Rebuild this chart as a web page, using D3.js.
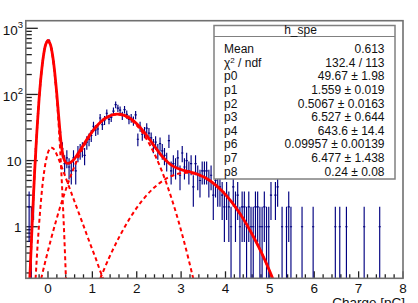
<!DOCTYPE html>
<html lang="en">
<head>
<meta charset="UTF-8">
<script src="https://d3js.org/d3.v7.min.js"></script>
<title>h_spe</title>
<style>
    body { margin: 0; background: white; }
    svg { display: block; font-family: "Liberation Sans", Arial, sans-serif; }
</style>
</head>
<body>
<div id="chart"></div>
<script>
    // histogram h_spe: 170 bins of 0.05 pC starting at -0.5
    const binLow = -0.5;
    const binWidth = 0.05;
    const counts = [
        0, 2, 1, 3, 15, 52, 140, 296, 490, 628,
        655, 498, 310, 152, 63, 27, 15, 9, 11, 8,
        7, 11, 7, 13, 14, 15, 12, 19, 21, 24,
        33, 29, 30, 44, 35, 41, 52, 42, 45, 56,
        70, 62, 58, 48, 59, 50, 42, 44, 40, 49,
        21, 33, 25, 27, 31, 26, 22, 17, 19, 14,
        18, 14, 12, 10, 20, 7, 9, 8, 11, 6,
        13, 8, 10, 7, 9, 4, 9, 6, 5, 7,
        7, 7, 5, 6, 3, 5, 4, 4, 3, 2,
        3, 2, 1, 4, 2, 3, 1, 2, 2, 1,
        2, 1, 1, 2, 2, 1, 1, 2, 1, 1,
        3, 0, 3, 4, 0, 1, 0, 1, 2, 1,
        0, 0, 0, 0, 1, 0, 0, 0, 0, 1,
        0, 0, 0, 0, 0, 0, 0, 0, 0, 1,
        0, 1, 0, 0, 1, 0, 0, 0, 0, 0,
        0, 0, 1, 0, 0, 0, 0, 0, 0, 1,
        0, 0, 0, 0, 0, 0, 0, 0, 0, 0
    ];

    // fit curves, [charge, entries]
    const fitTotal = [
        [-0.45, 0.045], [-0.4, 0.23], [-0.35, 1.39], [-0.3, 6.98], [-0.25, 27.8],
        [-0.2, 86.3], [-0.15, 208.6], [-0.1, 392.7], [-0.05, 573.8], [0, 654],
        [0.05, 580.4], [0.1, 403.8], [0.15, 221.6], [0.2, 99.1], [0.25, 39.6],
        [0.3, 17.5], [0.35, 11.05], [0.4, 9.38], [0.45, 9.06], [0.5, 9.26],
        [0.6, 10.71], [0.7, 13.42], [0.8, 17.26], [0.9, 22.06], [1.0, 27.57],
        [1.1, 33.37], [1.2, 39.02], [1.3, 43.97], [1.4, 47.74], [1.5, 49.9],
        [1.6, 50.2], [1.7, 48.7], [1.8, 45.56], [1.9, 41.14], [2.0, 35.94],
        [2.1, 30.47], [2.2, 25.18], [2.3, 20.45], [2.4, 16.48], [2.5, 13.35],
        [2.6, 11.05], [2.7, 9.45], [2.8, 8.39], [2.9, 7.73], [3.0, 7.31],
        [3.1, 7.01], [3.2, 6.75], [3.3, 6.45], [3.4, 6.11], [3.5, 5.69],
        [3.6, 5.22], [3.7, 4.69], [3.8, 4.15], [3.9, 3.6], [4.0, 3.06],
        [4.2, 2.09], [4.4, 1.32], [4.6, 0.77], [4.8, 0.42], [5.0, 0.21], [5.2, 0.095]
    ];
    const fitPedestal = [
        [-0.45, 0.024], [-0.4, 0.2], [-0.35, 1.34], [-0.3, 6.89], [-0.25, 27.6],
        [-0.2, 85.7], [-0.15, 207], [-0.1, 389], [-0.05, 567], [0, 643.6],
        [0.05, 567], [0.1, 389], [0.15, 207], [0.2, 85.7], [0.25, 27.6],
        [0.3, 6.89], [0.35, 1.34], [0.4, 0.2], [0.45, 0.024]
    ];
    const fitExpo = [
        [-0.33, 0.038], [-0.28, 0.16], [-0.23, 0.58], [-0.18, 1.63], [-0.13, 3.91],
        [-0.08, 7.28], [-0.03, 11.17], [0.02, 14.29], [0.07, 15.67], [0.12, 15.2],
        [0.17, 13.52], [0.22, 11.41], [0.27, 9.39], [0.37, 6.22], [0.47, 4.1],
        [0.57, 2.7], [0.67, 1.78], [0.77, 1.18], [0.87, 0.77], [0.97, 0.51],
        [1.07, 0.34], [1.17, 0.22], [1.27, 0.147], [1.37, 0.096]
    ];
    const fitOnePe = [
        [-0.19, 0.13], [0.06, 0.62], [0.31, 2.37], [0.56, 7.1], [0.81, 16.6],
        [1.06, 30.5], [1.31, 44.0], [1.56, 49.7], [1.81, 44.0], [2.06, 30.5],
        [2.31, 16.6], [2.56, 7.1], [2.81, 2.37], [3.06, 0.62], [3.31, 0.13]
    ];
    const fitTwoPe = [
        [1.12, 0.133], [1.37, 0.331], [1.62, 0.73], [1.87, 1.43], [2.12, 2.47],
        [2.37, 3.78], [2.62, 5.12], [2.87, 6.14], [3.12, 6.53], [3.37, 6.14],
        [3.62, 5.12], [3.87, 3.78], [4.12, 2.47], [4.37, 1.43], [4.62, 0.73],
        [4.87, 0.331], [5.12, 0.133]
    ];

    const statTitle = "h_spe";
    const statNames = ["Mean", "χ2 / ndf", "p0", "p1", "p2", "p3", "p4", "p6", "p7", "p8"];
    const statValues = ["0.613", "132.4 / 113", "49.67 ± 1.98", "1.559 ± 0.019",
        "0.5067 ± 0.0163", "6.527 ± 0.644", "643.6 ± 14.4", "0.09957 ± 0.00139",
        "6.477 ± 1.438", "0.24 ± 0.08"];

    const xTickLabels = [0, 1, 2, 3, 4, 5, 6, 7, 8];
    const yTickLabels = [[1, "1", ""], [10, "10", ""], [100, "10", "2"], [1000, "10", "3"]];
    const xTitle = "Charge [pC]";

    const W = 418, H = 303;
    const frame = { left: 25.8, right: 403, top: 20.7, bottom: 278.3 };

    const svg = d3.select("#chart").append("svg")
        .attr("width", W)
        .attr("height", H);

    const x = d3.scaleLinear().domain([-0.5, 8]).range([frame.left, frame.right]);
    const y = d3.scaleLog().domain([0.166, 1303]).range([frame.bottom, frame.top]);

    svg.append("clipPath").attr("id", "clip")
        .append("rect")
        .attr("x", frame.left).attr("y", frame.top)
        .attr("width", frame.right - frame.left)
        .attr("height", frame.bottom - frame.top);

    // ticks (inside the frame, ROOT style)
    const ax = svg.append("g").attr("stroke", "#222").attr("stroke-width", 1.3);
    y.ticks().forEach(v => {
        const major = Math.abs(Math.log10(v) - Math.round(Math.log10(v))) < 1e-9;
        ax.append("line")
            .attr("x1", frame.left).attr("x2", frame.left + (major ? 12 : 6))
            .attr("y1", y(v)).attr("y2", y(v));
    });
    x.ticks(40).forEach(v => {
        const major = Math.abs(v - Math.round(v)) < 1e-9;
        ax.append("line")
            .attr("x1", x(v)).attr("x2", x(v))
            .attr("y1", frame.bottom).attr("y2", frame.bottom - (major ? 7 : 4));
    });

    // tick labels
    svg.append("g").selectAll("text")
        .data(xTickLabels)
        .join("text")
        .attr("x", d => x(d))
        .attr("y", 293)
        .attr("text-anchor", "middle")
        .attr("font-size", 13.5)
        .attr("fill", "#111")
        .text(d => d);

    const yl = svg.append("g").selectAll("text")
        .data(yTickLabels)
        .join("text")
        .attr("x", d => d[2] ? 23 : 21.5)
        .attr("y", d => y(d[0]) + (d[2] ? 6.5 : 5))
        .attr("text-anchor", "end")
        .attr("font-size", 13.5)
        .attr("fill", "#111");
    yl.append("tspan").text(d => d[1]);
    yl.append("tspan")
        .attr("font-size", 9.5)
        .attr("dy", -7)
        .text(d => d[2]);

    svg.append("text")
        .attr("x", frame.right + 2)
        .attr("y", 307)
        .attr("text-anchor", "end")
        .attr("font-size", 13.5)
        .attr("fill", "#111")
        .text(xTitle);

    // data points with sqrt(N) errors
    const plot = svg.append("g").attr("clip-path", "url(#clip)");
    const bins = counts.map((n, i) => ({ c: binLow + binWidth * (i + 0.5), n: n })).filter(d => d.n > 0);
    const pts = plot.append("g").attr("stroke", "#000080").attr("stroke-width", 1.15).attr("fill", "none");
    bins.forEach(d => {
        const e = Math.sqrt(d.n);
        const lo = d.n - e > 0 ? y(d.n - e) : frame.bottom + 5;
        pts.append("line")
            .attr("x1", x(d.c)).attr("x2", x(d.c))
            .attr("y1", lo).attr("y2", y(d.n + e));
        pts.append("line")
            .attr("x1", x(d.c - binWidth / 2)).attr("x2", x(d.c + binWidth / 2))
            .attr("y1", y(d.n)).attr("y2", y(d.n));
    });

    // fit curves
    const line = d3.line()
        .x(d => x(d[0]))
        .y(d => y(d[1]))
        .curve(d3.curveCatmullRom);

    [fitPedestal, fitExpo, fitOnePe, fitTwoPe].forEach(c => {
        plot.append("path")
            .attr("d", line(c))
            .attr("fill", "none")
            .attr("stroke", "#ff0000")
            .attr("stroke-width", 2)
            .attr("stroke-dasharray", "4,3");
    });
    plot.append("path")
        .attr("d", line(fitTotal))
        .attr("fill", "none")
        .attr("stroke", "#ff0000")
        .attr("stroke-width", 2.8);

    // frame
    svg.append("rect")
        .attr("x", frame.left).attr("y", frame.top)
        .attr("width", frame.right - frame.left)
        .attr("height", frame.bottom - frame.top)
        .attr("fill", "none")
        .attr("stroke", "#707070")
        .attr("stroke-width", 1.6);

    // stats box
    const box = { x: 214, y: 25.5, w: 181, h: 153.5 };
    const sb = svg.append("g");
    sb.append("rect")
        .attr("x", box.x).attr("y", box.y)
        .attr("width", box.w).attr("height", box.h)
        .attr("fill", "white")
        .attr("stroke", "#808080")
        .attr("stroke-width", 1.5);
    sb.append("line")
        .attr("x1", box.x).attr("x2", box.x + box.w)
        .attr("y1", 36.5).attr("y2", 36.5)
        .attr("stroke", "#808080").attr("stroke-width", 1.2);
    sb.append("text")
        .attr("x", box.x + box.w / 2 - 4)
        .attr("y", 34)
        .attr("text-anchor", "middle")
        .attr("font-size", 12)
        .attr("fill", "#111")
        .text(statTitle);

    const rowY = i => 53.3 + i * 13.58;
    statNames.forEach((name, i) => {
        const t = sb.append("text")
            .attr("x", 224)
            .attr("y", rowY(i))
            .attr("font-size", 12)
            .attr("fill", "#111");
        if (name.startsWith("χ2")) {
            t.append("tspan").text("χ");
            t.append("tspan").attr("font-size", 8).attr("dy", -4).text("2");
            t.append("tspan").attr("dy", 4).text(" / ndf");
        } else {
            t.text(name);
        }
        sb.append("text")
            .attr("x", 384.5)
            .attr("y", rowY(i))
            .attr("text-anchor", "end")
            .attr("font-size", 12)
            .attr("fill", "#111")
            .text(statValues[i]);
    });
</script>
</body>
</html>
